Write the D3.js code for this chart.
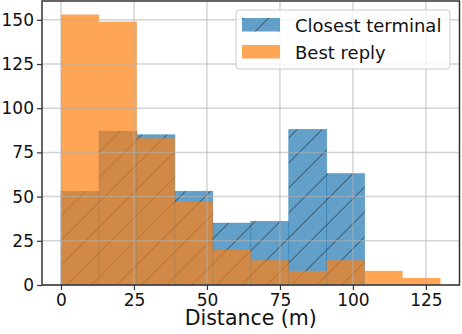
<!DOCTYPE html>
<html>
<head>
<meta charset="utf-8">
<script src="https://cdn.jsdelivr.net/npm/d3@7"></script>
<style>
  body { margin: 0; background: #fff; }
  svg { display: block; font-family: "DejaVu Sans", sans-serif; }
</style>
</head>
<body>
<div id="chart"></div>
<script>
// Histogram bin edges (metres)
const binEdges = [0, 13, 26, 39, 52, 65, 78, 91, 104, 117, 130];
// Counts per bin
const closestTerminal = [53, 87, 85, 53, 35, 36, 88, 63, 0, 0];
const bestReply = [153, 149, 83, 47, 20, 14, 8, 14, 8, 4];
const xTicks = [0, 25, 50, 75, 100, 125];
const yTicks = [0, 25, 50, 75, 100, 125, 150];
const seriesNames = ["Closest terminal", "Best reply"];

const width = 462, height = 334;
const margin = { top: 1, right: 2.5, bottom: 49, left: 42 };

const svg = d3.select("#chart").append("svg")
    .attr("width", width)
    .attr("height", height);

// Hatch pattern for the blue series
const defs = svg.append("defs");
defs.append("pattern")
    .attr("id", "hatch")
    .attr("patternUnits", "userSpaceOnUse")
    .attr("width", 25)
    .attr("height", 25)
    .attr("patternTransform", "translate(1.6,0)")
    .append("path")
    .attr("d", "M-2,27 L27,-2 M-5,5 L5,-5 M20,30 L30,20")
    .attr("stroke", "#222")
    .attr("stroke-opacity", 0.75)
    .attr("stroke-width", 1);

const xMax = binEdges[binEdges.length - 1];
const x = d3.scaleLinear()
    .domain([-xMax * 0.05, xMax * 1.05])
    .range([margin.left, width - margin.right]);

const yMax = d3.max(closestTerminal.concat(bestReply)) * 1.05;
const y = d3.scaleLinear()
    .domain([0, yMax])
    .range([height - margin.bottom, margin.top]);

const bins = d3.range(binEdges.length - 1).map(i => ({
    x0: binEdges[i], x1: binEdges[i + 1],
    a: closestTerminal[i], b: bestReply[i]
}));

// Blue bars
const blue = svg.append("g");
blue.selectAll("rect.fill")
    .data(bins.filter(d => d.a > 0))
    .enter().append("rect")
    .attr("x", d => x(d.x0))
    .attr("y", d => y(d.a))
    .attr("width", d => x(d.x1) - x(d.x0))
    .attr("height", d => y(0) - y(d.a))
    .attr("fill", "#1f77b4")
    .attr("fill-opacity", 0.7)
    .attr("stroke", "#1f77b4")
    .attr("stroke-opacity", 0.5)
    .attr("stroke-width", 0.8);
blue.selectAll("rect.hatch")
    .data(bins.filter(d => d.a > 0))
    .enter().append("rect")
    .attr("x", d => x(d.x0))
    .attr("y", d => y(d.a))
    .attr("width", d => x(d.x1) - x(d.x0))
    .attr("height", d => y(0) - y(d.a))
    .attr("fill", "url(#hatch)");

// Orange bars
svg.append("g").selectAll("rect")
    .data(bins)
    .enter().append("rect")
    .attr("x", d => x(d.x0))
    .attr("y", d => y(d.b))
    .attr("width", d => x(d.x1) - x(d.x0))
    .attr("height", d => y(0) - y(d.b))
    .attr("fill", "#ff7f0e")
    .attr("fill-opacity", 0.7);

// Grid (drawn above the bars)
const grid = svg.append("g")
    .attr("stroke", "#b0b0b0")
    .attr("stroke-opacity", 0.55)
    .attr("stroke-width", 1.5);
grid.selectAll("line.v").data(xTicks).enter().append("line")
    .attr("x1", d => x(d)).attr("x2", d => x(d))
    .attr("y1", y.range()[0]).attr("y2", y.range()[1]);
grid.selectAll("line.h").data(yTicks).enter().append("line")
    .attr("x1", x.range()[0]).attr("x2", x.range()[1])
    .attr("y1", d => y(d)).attr("y2", d => y(d));

// Axes
const xAxis = svg.append("g")
    .attr("transform", `translate(0,${y(0)})`)
    .call(d3.axisBottom(x).tickValues(xTicks).tickSize(5).tickPadding(4).tickSizeOuter(0));
const yAxis = svg.append("g")
    .attr("transform", `translate(${x.range()[0]},0)`)
    .call(d3.axisLeft(y).tickValues(yTicks).tickSize(5).tickPadding(3).tickSizeOuter(0));
[xAxis, yAxis].forEach(a => {
    a.select(".domain").remove();
    a.selectAll(".tick line").attr("stroke", "#333").attr("stroke-width", 1.2);
    a.selectAll(".tick text")
        .attr("fill", "#111")
        .style("font-size", "17px")
        .style("font-family", "DejaVu Sans");
});

// Spines
svg.append("rect")
    .attr("x", x.range()[0])
    .attr("y", y.range()[1])
    .attr("width", x.range()[1] - x.range()[0])
    .attr("height", y.range()[0] - y.range()[1])
    .attr("fill", "none")
    .attr("stroke", "#333")
    .attr("stroke-width", 1.5);

// X label
svg.append("text")
    .attr("x", (x.range()[0] + x.range()[1]) / 2)
    .attr("y", 325)
    .attr("text-anchor", "middle")
    .style("font-size", "20.5px")
    .attr("fill", "#111")
    .text("Distance (m)");

// Legend
const legend = svg.append("g");
legend.append("rect")
    .attr("x", 236).attr("y", 10)
    .attr("width", 214).attr("height", 59)
    .attr("rx", 3)
    .attr("fill", "#fff").attr("fill-opacity", 0.8)
    .attr("stroke", "#ccc").attr("stroke-width", 1);
const items = legend.selectAll("g.item")
    .data(seriesNames)
    .enter().append("g")
    .attr("transform", (d, i) => `translate(242,${18 + i * 27})`);
items.append("rect")
    .attr("width", 38).attr("height", 13.5)
    .attr("fill", (d, i) => i === 0 ? "#1f77b4" : "#ff7f0e")
    .attr("fill-opacity", 0.7);
items.filter((d, i) => i === 0).append("rect")
    .attr("width", 38).attr("height", 13.5)
    .attr("fill", "url(#hatch)");
items.append("text")
    .attr("x", 53).attr("y", 13.5)
    .style("font-size", "18px")
    .attr("fill", "#111")
    .text(d => d);
</script>
</body>
</html>
